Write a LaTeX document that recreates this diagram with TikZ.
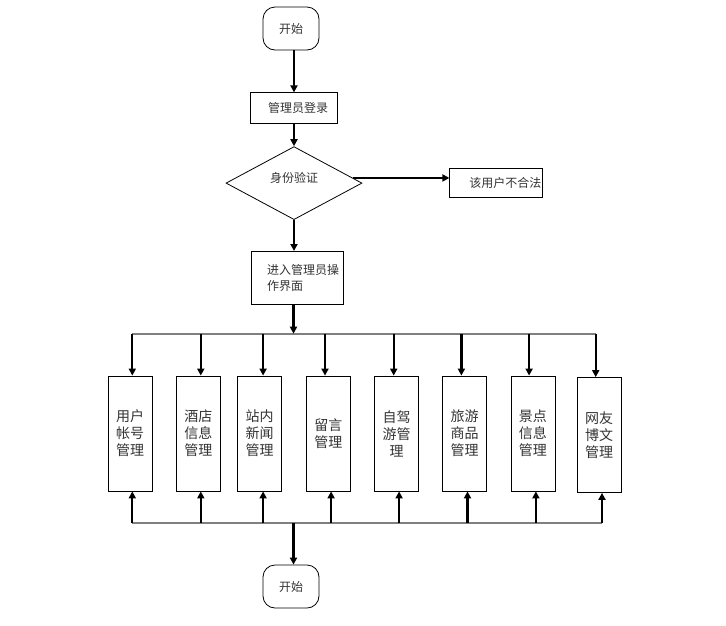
\documentclass[tikz,border=0pt]{standalone}
\usepackage{fontspec}
\setmainfont{Noto Sans CJK SC}
\usetikzlibrary{arrows.meta,positioning,shapes.geometric}
\definecolor{busGray}{HTML}{808080}
\definecolor{inkGray}{HTML}{333333}

\begin{document}
\begin{tikzpicture}[x=1pt,y=-1pt,
    flowbox/.style={draw,line width=0.8pt,inner sep=1pt,font=\fontsize{12pt}{16.7pt}\selectfont,text=inkGray},
    termbox/.style={draw,line width=0.8pt,rounded corners=12pt,minimum width=56pt,minimum height=43pt,font=\fontsize{12pt}{15pt}\selectfont,text=inkGray},
    modbox/.style={draw,line width=0.8pt,minimum width=44pt,minimum height=115pt,inner sep=1pt,align=center,font=\fontsize{14pt}{17pt}\selectfont,text=inkGray},
    arr/.style={line width=2.2pt,-{Triangle[length=7pt,width=7pt]}},
    bus/.style={busGray,line width=2pt}]
  \useasboundingbox (0,0) rectangle (726,625);

  % main flow
  \node[termbox] (start) at (291,28.5) {开始};
  \node[flowbox,minimum width=87pt,minimum height=31pt,below=42pt of start,xshift=3pt] (login)
    {\hspace*{8pt}管理员登录};
  \node[flowbox,diamond,inner sep=0pt,minimum width=136pt,minimum height=73pt,below=22pt of login] (dia)
    {\raisebox{12pt}{身份验证}};
  \node[flowbox,minimum width=93pt,minimum height=29.5pt,right=87pt of dia] (bad)
    {\hspace*{18pt}该用户不合法};
  \node[flowbox,text width=90pt,align=left,minimum height=53pt,below=31pt of dia,xshift=3pt] (enter)
    {\hspace*{15pt}进入管理员操\\\hspace*{15pt}作界面};
  \node[termbox] (stop) at (291,586.5) {开始};

  \coordinate (busT) at (293.5,333.7);
  \coordinate (busB) at (293.5,522.7);

  % modules
  \foreach \i/\x/\y/\txt in {1/130/433.5/{用户\\帐号\\管理},2/198.3/433.5/{酒店\\信息\\管理},
      3/259.7/433.5/{站内\\新闻\\管理},4/328.4/433.5/{留言\\管理},5/396.5/433.5/{自驾\\游管\\理},
      6/464.5/433.5/{旅游\\商品\\管理},7/532.9/433.5/{景点\\信息\\管理},8/599.2/435/{网友\\博文\\管理}}
    \node[modbox] (m\i) at (\x,\y) {\txt};

  \draw[bus] ([xshift=2.3pt]m1.north |- busT) -- ([xshift=-3.5pt]m8.north |- busT);
  \draw[bus] ([xshift=2.3pt]m1.south |- busB) -- ([xshift=2.8pt]m8.south |- busB);

  \draw[arr] (login.north |- start.south) -- (login.north);
  \draw[arr] (login) -- (dia);
  \draw[arr] (dia.5) -- (dia.5 -| bad.west);
  \draw[arr] (dia.south) -- (dia.south |- enter.north);
  \draw[arr] (enter.south -| busT) -- (busT);
  \draw[arr] (busB) -- (busB |- stop.north);

  \foreach \i/\dt/\db in {1/2.3/2.3,2/2.5/2.5,3/3.4/3.4,4/-3.4/2.7,5/-2.8/2.6,6/-3.1/3,7/-3.8/3,8/-3.5/2.8}{
    \draw[arr] ([xshift=\dt pt]m\i.north |- busT) -- ([xshift=\dt pt]m\i.north);
    \draw[arr] ([xshift=\db pt]m\i.south |- busB) -- ([xshift=\db pt]m\i.south);
  }
\end{tikzpicture}
\end{document}
